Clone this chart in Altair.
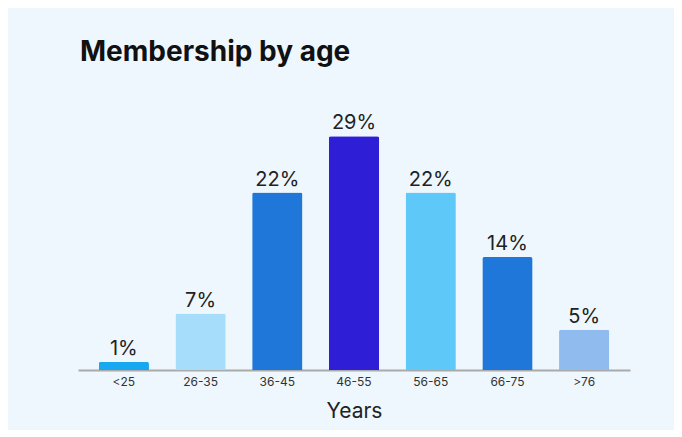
import altair as alt
import pandas as pd

categories = ["<25", "26-35", "36-45", "46-55", "56-65", "66-75", ">76"]
values = [1, 7, 22, 29, 22, 14, 5]
labels = ["1%", "7%", "22%", "29%", "22%", "14%", "5%"]
colors = ["#18a8ef", "#a6ddfa", "#1f78d9", "#2e1fd6", "#5ec8f8", "#1f78d9", "#8fbbee"]

df = pd.DataFrame({"age": categories, "value": values, "label": labels})

x = alt.X("age:N", sort=categories,
          scale=alt.Scale(paddingInner=0.345, paddingOuter=0.27),
          axis=alt.Axis(title="Years", labelAngle=0, labelFontSize=12, labelColor="#333333",
                        labelFont="Inter", ticks=False, domainColor="#aaaaaa", domainWidth=2,
                        labelPadding=6, titleFontSize=21, titleFont="Inter",
                        titleFontWeight="normal", titleColor="#222222", titlePadding=13))
y = alt.Y("value:Q", scale=alt.Scale(domain=[0, 31], nice=False), axis=None)

bars = alt.Chart(df).mark_bar(cornerRadiusTopLeft=2, cornerRadiusTopRight=2).encode(
    x=x, y=y,
    color=alt.Color("age:N", sort=categories,
                    scale=alt.Scale(domain=categories, range=colors), legend=None),
)

text = alt.Chart(df).mark_text(baseline="bottom", dy=-3, fontSize=20, font="Inter",
                               color="#222222").encode(
    x=alt.X("age:N", sort=categories), y="value:Q", text="label:N")

chart = alt.layer(bars, text).properties(
    width=552, height=250,
    title=alt.TitleParams("Membership by age", anchor="start", fontSize=28, font="Inter",
                          fontWeight="bold", color="#111111", offset=46, dx=2),
    padding={"left": 70, "top": 112, "right": 44, "bottom": 60},
    autosize=alt.AutoSizeParams(type="none"),
    background="#eef7fd",
).configure_view(stroke=None)

chart.save("out.html", embed_options={"renderer": "svg", "actions": False})
